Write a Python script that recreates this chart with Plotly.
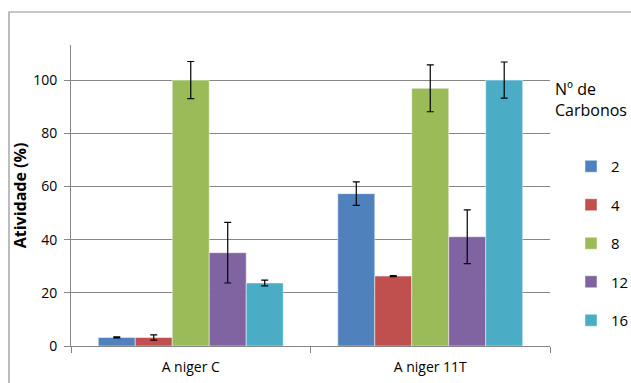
import plotly.graph_objects as go

categories = ["A niger C", "A niger 11T"]
series_names = ["2", "4", "8", "12", "16"]
values = {
    "2": [3.2, 57.3],
    "4": [3.2, 26.3],
    "8": [100.0, 96.9],
    "12": [35.1, 41.1],
    "16": [23.7, 100.0],
}
errors = {
    "2": [0.2, 4.4],
    "4": [1.0, 0.2],
    "8": [7.0, 8.8],
    "12": [11.4, 10.1],
    "16": [1.1, 6.8],
}
colors = ["#4F81BD", "#C0504D", "#9BBB59", "#8064A2", "#4BACC6"]

FONT = "Open Sans"

fig = go.Figure()
for name, col in zip(series_names, colors):
    fig.add_trace(go.Bar(
        x=categories, y=values[name], name=name,
        marker=dict(color=col, line=dict(color="rgba(255,255,255,0.6)", width=0.8)),
        error_y=dict(type="data", array=errors[name], color="black", thickness=1.2, width=3.5),
        legendgroup=name,
    ))

W, H = 631, 383
L, R, T, B = 71, 81, 45, 37
pw, ph = W - L - R, H - T - B

def px_x(p):
    return (p - L) / pw

def px_y(p):
    return (H - B - p) / ph

fig.update_layout(
    width=W, height=H,
    margin=dict(l=L, r=R, t=T, b=B, autoexpand=False),
    paper_bgcolor="white", plot_bgcolor="white",
    font=dict(family=FONT, size=14, color="black"),
    barmode="group", bargap=0.228, bargroupgap=0,
    showlegend=True,
    legend=dict(xref="container", yref="container",
                x=571 / W, y=1 - 150 / H, xanchor="left", yanchor="top",
                font=dict(family=FONT, size=15), tracegroupgap=16,
                itemwidth=30, bgcolor="rgba(0,0,0,0)"),
    xaxis=dict(showline=True, linecolor="#868686", linewidth=1,
               ticks="outside", tickson="boundaries", ticklen=6, tickcolor="#868686",
               tickfont=dict(size=14), showgrid=False, ticklabelstandoff=8),
    yaxis=dict(range=[0, 113.2], dtick=20, showline=True, linecolor="#868686", linewidth=1,
               ticks="outside", ticklen=6, tickcolor="#868686",
               showgrid=True, gridcolor="#868686", gridwidth=1, zeroline=False,
               tickfont=dict(size=14), ticklabelstandoff=4,
               title=dict(text="<b>Atividade (%)</b>", font=dict(size=16), standoff=2)),
    shapes=[dict(type="rect", xref="paper", yref="paper",
                 x0=px_x(9), y0=px_y(400), x1=px_x(650), y1=px_y(12),
                 line=dict(color="#909090", width=1.2), fillcolor="rgba(0,0,0,0)", layer="below")],
    annotations=[dict(text="Nº de<br>Carbonos", xref="paper", yref="paper",
                      x=px_x(553), y=px_y(76), xanchor="left", yanchor="top",
                      align="left", showarrow=False, font=dict(family=FONT, size=16))],
)

fig.write_html("out.html", config={"displayModeBar": False},
               post_script="document.body.style.margin='0';document.body.style.overflow='hidden';")
